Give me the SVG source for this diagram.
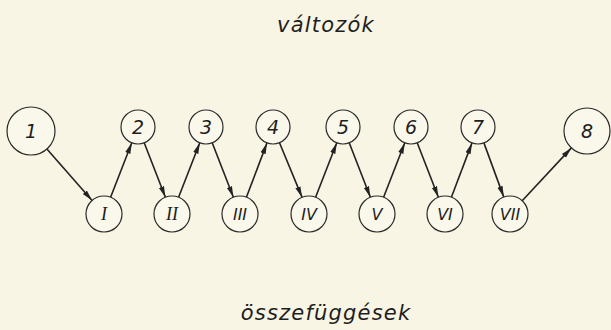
<svg xmlns="http://www.w3.org/2000/svg" width="611" height="330" viewBox="0 0 611 330">
  <style>
    .bg { fill: #f8f5e4; }
    .node circle { fill: #faf8ea; stroke: #2a2a2a; stroke-width: 1.2; }
    .node text { font-family: "DejaVu Sans", "Liberation Sans", sans-serif; font-style: italic; fill: #1e1e1e; text-anchor: middle; dominant-baseline: central; }
    .num { font-size: 19px; }
    .rom { font-size: 16px; }
    .serif { font-family: "Liberation Serif", serif !important; font-size: 18px !important; }
    .label { font-family: "DejaVu Sans", "Liberation Sans", sans-serif; font-style: italic; font-size: 21px; fill: #1e1e1e; text-anchor: middle; letter-spacing: 1.2px; }
    .edges line { stroke: #222; stroke-width: 1.6; marker-end: url(#head); }
  </style>
  <defs>
    <marker id="head" markerUnits="userSpaceOnUse" markerWidth="12" markerHeight="8" viewBox="0 0 12 8" refX="11" refY="4" orient="auto">
      <path d="M0,1.3 L11,4 L0,6.7 Z" fill="#222"/>
    </marker>
  </defs>

  <rect class="bg" x="0" y="0" width="611" height="330"/>

  <text class="label" x="326" y="32">változók</text>
  <text class="label" x="326" y="320">összefüggések</text>

  <!-- connectors: variable -> relation -> variable -->
  <g class="edges">
    <line x1="46.9" y1="149.0" x2="92.1" y2="200.5"/>
    <line x1="110.6" y1="197.2" x2="131.8" y2="142.8"/>
    <line x1="144.2" y1="142.8" x2="165.4" y2="197.2"/>
    <line x1="178.6" y1="197.2" x2="199.8" y2="142.8"/>
    <line x1="212.2" y1="142.8" x2="233.4" y2="197.2"/>
    <line x1="246.4" y1="197.2" x2="267.0" y2="142.9"/>
    <line x1="279.5" y1="142.7" x2="302.1" y2="197.4"/>
    <line x1="315.6" y1="197.2" x2="336.8" y2="142.8"/>
    <line x1="349.2" y1="142.8" x2="370.4" y2="197.2"/>
    <line x1="383.6" y1="197.2" x2="404.8" y2="142.8"/>
    <line x1="417.2" y1="142.8" x2="438.4" y2="197.2"/>
    <line x1="451.4" y1="197.2" x2="472.0" y2="142.9"/>
    <line x1="483.9" y1="142.9" x2="503.8" y2="197.1"/>
    <line x1="522.2" y1="200.8" x2="571.4" y2="147.9"/>
  </g>

  <!-- variables (top row) -->
  <g id="v1" class="node"><circle cx="31" cy="131" r="24"/><text class="num" x="31" y="131">1</text></g>
  <g id="v2" class="node"><circle cx="138" cy="127" r="17"/><text class="num" x="138" y="127">2</text></g>
  <g id="v3" class="node"><circle cx="206" cy="127" r="17"/><text class="num" x="206" y="127">3</text></g>
  <g id="v4" class="node"><circle cx="273" cy="127" r="17"/><text class="num" x="273" y="127">4</text></g>
  <g id="v5" class="node"><circle cx="343" cy="127" r="17"/><text class="num" x="343" y="127">5</text></g>
  <g id="v6" class="node"><circle cx="411" cy="127" r="17"/><text class="num" x="411" y="127">6</text></g>
  <g id="v7" class="node"><circle cx="478" cy="127" r="17"/><text class="num" x="478" y="127">7</text></g>
  <g id="v8" class="node"><circle cx="587" cy="131" r="23"/><text class="num" x="587" y="131">8</text></g>

  <!-- relations (bottom row) -->
  <g id="rI" class="node"><circle cx="104" cy="214" r="18"/><text class="rom serif" x="104" y="214">I</text></g>
  <g id="rII" class="node"><circle cx="172" cy="214" r="18"/><text class="rom serif" x="172" y="214">II</text></g>
  <g id="rIII" class="node"><circle cx="240" cy="214" r="18"/><text class="rom" x="240" y="214">III</text></g>
  <g id="rIV" class="node"><circle cx="309" cy="214" r="18"/><text class="rom" x="309" y="214">IV</text></g>
  <g id="rV" class="node"><circle cx="377" cy="214" r="18"/><text class="rom" x="377" y="214">V</text></g>
  <g id="rVI" class="node"><circle cx="445" cy="214" r="18"/><text class="rom" x="445" y="214">VI</text></g>
  <g id="rVII" class="node"><circle cx="510" cy="214" r="18"/><text class="rom" x="510" y="214">VII</text></g>
</svg>
